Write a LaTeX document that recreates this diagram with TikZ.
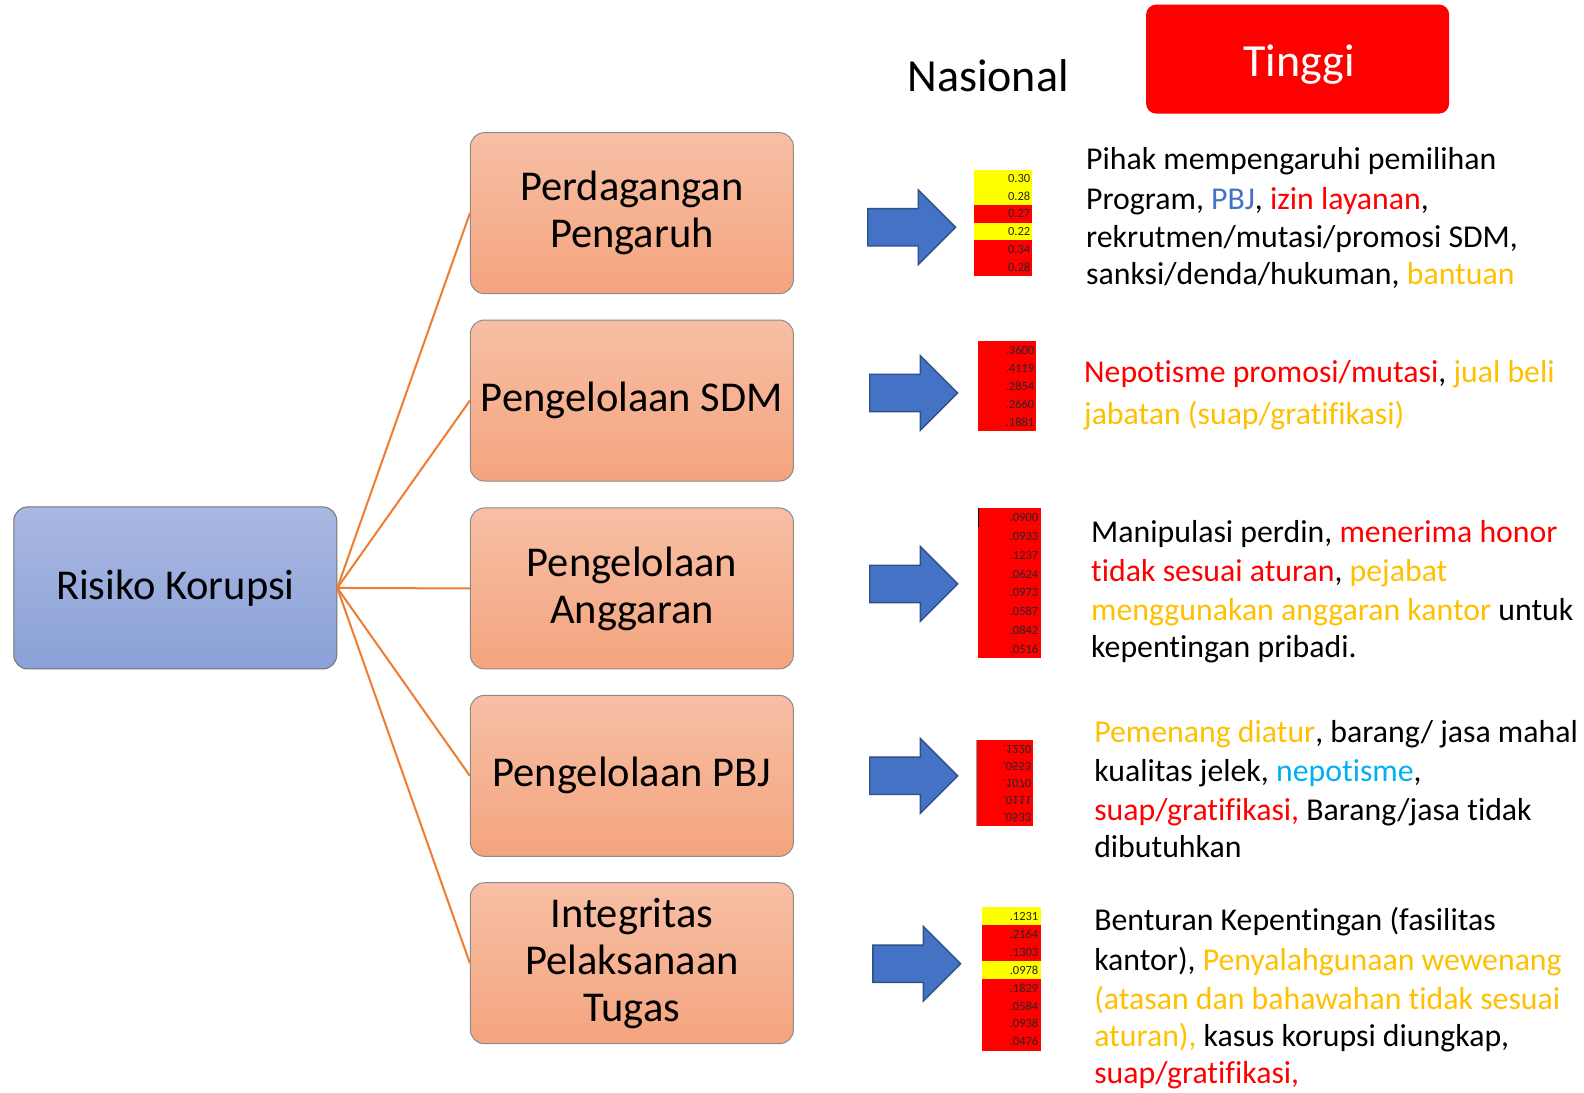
\documentclass[tikz,border=0pt]{standalone}
\usepackage{fontspec}
\setmainfont[Ligatures=NoCommon]{Carlito}
\definecolor{orln}{HTML}{ED7D31}
\definecolor{ylw}{HTML}{FFC000}
\definecolor{bl}{HTML}{4472C4}
\definecolor{lbl}{HTML}{00B0F0}
\definecolor{rd}{HTML}{FF0000}
\definecolor{cellY}{HTML}{FFFF00}
\definecolor{btop}{HTML}{A9B8E2}
\definecolor{bbot}{HTML}{8AA1D8}
\definecolor{otop}{HTML}{F7BFA5}
\definecolor{obot}{HTML}{F4A47E}
\tikzset{
  x=1.0102pt, y=-1.0102pt,
  mainbox/.style={draw=black!55, line width=1pt, rounded corners=14pt, top color=btop, bottom color=bbot,
    minimum width=323pt, minimum height=162pt, inner sep=0pt, font=\fontsize{42.5}{47}\selectfont, align=center},
  subbox/.style={draw=black!45, line width=1pt, rounded corners=14pt, top color=otop, bottom color=obot,
    minimum width=323pt, minimum height=161pt, inner sep=0pt, font=\fontsize{42.5}{47}\selectfont, align=center},
  link/.style={draw=orln, line width=2pt},
  txt/.style={anchor=base west, inner sep=0pt, font=\fontsize{31.8}{38}\selectfont},
  num/.style={anchor=east, inner sep=0pt, font=\fontsize{12.5}{13}\selectfont, text=black!85},
  bluearrow/.pic={\draw[fill=bl, draw=bl!70!black, line width=1.4pt, line join=miter]
     (0,-18.5) -- (50,-18.5) -- (50,-37) -- (87,0) -- (50,37) -- (50,18.5) -- (0,18.5) -- cycle;}
}
\newcommand\cellrow[6]{% x1,x2,ytop,h,color,text
  \fill[#5] (#1,#3) rectangle (#2,#3+#4);
  \node[num] at (#2-2,#3+#4/2) {#6};}
\begin{document}
\begin{tikzpicture}
\useasboundingbox (0,0) rectangle (1568,1081);
\fill[white] (0,0) rectangle (1568,1081);

% header
\node[inner sep=0pt, font=\fontsize{46}{50}\selectfont] (nas) at (978,75) {Nasional};
\node[fill=rd, rounded corners=10pt, minimum width=303pt, minimum height=109pt, inner sep=0pt] (tinggi) at (1284.5,58.5) {};
\node[inner sep=0pt, text=white, font=\fontsize{46}{50}\selectfont] (tinggitxt) at (1286,64) {Tinggi};

% boxes
\node[mainbox] (rk) at (173.5,582) {Risiko Korupsi};
\node[subbox] (b1) at (625.5,211) {Perdagangan\\Pengaruh};
\node[subbox] (b2) at (625.5,396.5) {Pengelolaan SDM};
\node[subbox] (b3) at (625.5,582.5) {Pengelolaan\\Anggaran};
\node[subbox] (b4) at (625.5,768) {Pengelolaan PBJ};
\node[subbox] (b5) at (625.5,953.5) {Integritas\\Pelaksanaan\\Tugas};

\foreach \b in {b1,b2,b3,b4,b5} \draw[link] (rk.east) -- (\b.west);

% arrows
\pic at (859,225) {bluearrow};
\pic at (861,389) {bluearrow};
\pic at (861,578) {bluearrow};
\pic at (861,768) {bluearrow};
\pic at (864,954) {bluearrow};

% table 1
\cellrow{964}{1022}{168}{17.5}{cellY}{0.30}
\cellrow{964}{1022}{185.5}{17.5}{cellY}{0.28}
\cellrow{964}{1022}{203}{17.5}{rd}{0.27}
\cellrow{964}{1022}{220.5}{17.5}{cellY}{0.22}
\cellrow{964}{1022}{238}{17.5}{rd}{0.34}
\cellrow{964}{1022}{255.5}{17.5}{rd}{0.28}
% table 2
\cellrow{968}{1026}{338}{17.8}{rd}{.3600}
\cellrow{968}{1026}{355.8}{17.8}{rd}{.4119}
\cellrow{968}{1026}{373.6}{17.8}{rd}{.2854}
\cellrow{968}{1026}{391.4}{17.8}{rd}{.2660}
\cellrow{968}{1026}{409.2}{17.8}{rd}{.1881}
% table 3
\cellrow{968}{1030}{503}{18.6}{rd}{.0900}
\cellrow{968}{1030}{521.6}{18.6}{rd}{.0933}
\cellrow{968}{1030}{540.2}{18.6}{rd}{.1237}
\cellrow{968}{1030}{558.8}{18.6}{rd}{.0624}
\cellrow{968}{1030}{577.4}{18.6}{rd}{.0973}
\cellrow{968}{1030}{596}{18.6}{rd}{.0587}
\cellrow{968}{1030}{614.6}{18.6}{rd}{.0842}
\cellrow{968}{1030}{633.2}{18.6}{rd}{.0516}
\draw[black, line width=1pt] (968.5,503) -- (968.5,522);
% table 4 (flipped numbers)
\cellrow{966}{1023}{733}{17}{rd}{\scalebox{1}[-1]{.1220}}
\cellrow{966}{1023}{750}{17}{rd}{\scalebox{1}[-1]{.0553}}
\cellrow{966}{1023}{767}{17}{rd}{\scalebox{1}[-1]{.1070}}
\cellrow{966}{1023}{784}{17}{rd}{\scalebox{1}[-1]{.0111}}
\cellrow{966}{1023}{801}{17}{rd}{\scalebox{1}[-1]{.0533}}
\draw[black!40, line width=1pt] (966.5,733) -- (966.5,818);
% table 5
\cellrow{972}{1030}{898}{17.75}{cellY}{.1231}
\cellrow{972}{1030}{915.75}{17.75}{rd}{.2164}
\cellrow{972}{1030}{933.5}{17.75}{rd}{.1303}
\cellrow{972}{1030}{951.25}{17.75}{cellY}{.0978}
\cellrow{972}{1030}{969}{17.75}{rd}{.1829}
\cellrow{972}{1030}{986.75}{17.75}{rd}{.0584}
\cellrow{972}{1030}{1004.5}{17.75}{rd}{.0938}
\cellrow{972}{1030}{1022.25}{17.75}{rd}{.0476}

% text block 1
\node[txt] (t11) at (1075,168) {Pihak mempengaruhi pemilihan};
\node[txt] (t12) at (1075,207) {Program, \textcolor{bl}{PBJ}, \textcolor{rd}{izin layanan},};
\node[txt] (t13) at (1075,245) {rekrutmen/mutasi/promosi SDM,};
\node[txt] (t14) at (1075,282) {sanksi/denda/hukuman, \textcolor{ylw}{bantuan}};
% text block 2
\node[txt] (t21) at (1073,379) {\textcolor{rd}{Nepotisme promosi/mutasi}, \textcolor{ylw}{jual beli}};
\node[txt] (t22) at (1073,420) {\textcolor{ylw}{jabatan (suap/gratifikasi)}};
% text block 3
\node[txt] (t31) at (1080,537) {Manipulasi perdin, \textcolor{rd}{menerima honor}};
\node[txt] (t32) at (1080,576) {\textcolor{rd}{tidak sesuai aturan}, \textcolor{ylw}{pejabat}};
\node[txt] (t33) at (1080,614) {\textcolor{ylw}{menggunakan anggaran kantor} untuk};
\node[txt] (t34) at (1080,651) {kepentingan pribadi.};
% text block 4
\node[txt] (t41) at (1083,735) {\textcolor{ylw}{Pemenang diatur}, barang/ jasa mahal};
\node[txt] (t42) at (1083,774) {kualitas jelek, \textcolor{lbl}{nepotisme},};
\node[txt] (t43) at (1083,812) {\textcolor{rd}{suap/gratifikasi,} Barang/jasa tidak};
\node[txt] (t44) at (1083,849) {dibutuhkan};
% text block 5
\node[txt] (t51) at (1083,921) {Benturan Kepentingan (fasilitas};
\node[txt] (t52) at (1083,961) {kantor), \textcolor{ylw}{Penyalahgunaan wewenang}};
\node[txt] (t53) at (1083,999) {\textcolor{ylw}{(atasan dan bahawahan tidak sesuai}};
\node[txt] (t54) at (1083,1036) {\textcolor{ylw}{aturan),} kasus korupsi diungkap,};
\node[txt] (t55) at (1083,1073) {\textcolor{rd}{suap/gratifikasi,}};
\end{tikzpicture}
\end{document}
